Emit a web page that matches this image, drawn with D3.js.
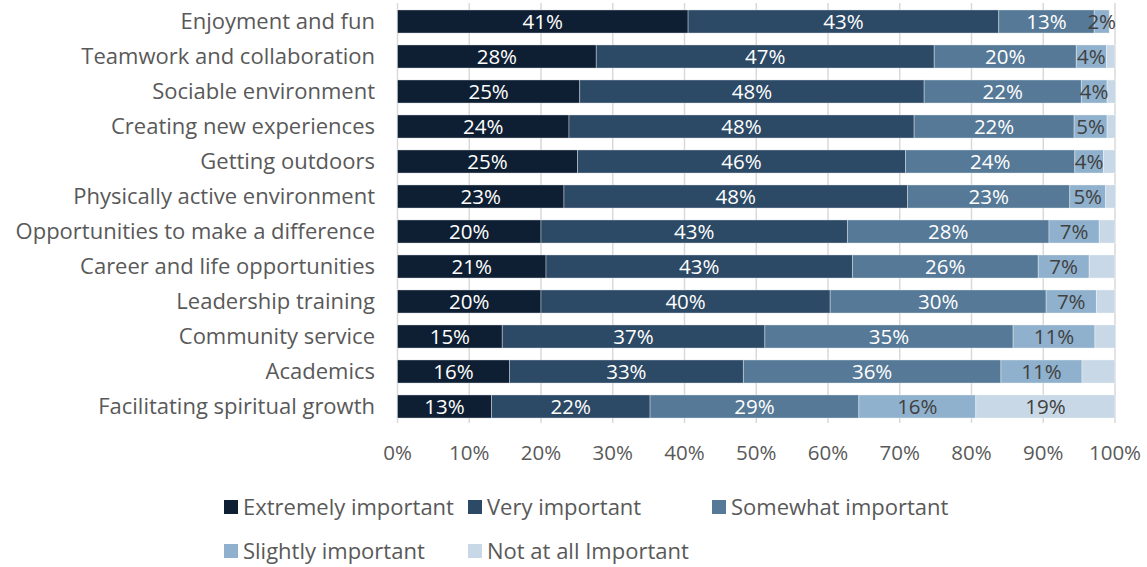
<!DOCTYPE html>
<html>
<head>
<meta charset="utf-8">
<script src="https://cdn.jsdelivr.net/npm/d3@7"></script>
<style>
  body { margin: 0; background: #fff; }
  svg { display: block; font-family: "Open Sans", Lato, sans-serif; }
</style>
</head>
<body>
<svg id="chart" width="1147" height="567"></svg>
<script>
// reasons, top to bottom
var categories = [
  "Enjoyment and fun",
  "Teamwork and collaboration",
  "Sociable environment",
  "Creating new experiences",
  "Getting outdoors",
  "Physically active environment",
  "Opportunities to make a difference",
  "Career and life opportunities",
  "Leadership training",
  "Community service",
  "Academics",
  "Facilitating spiritual growth"
];

var seriesNames = ["Extremely important", "Very important", "Somewhat important",
                   "Slightly important", "Not at all Important"];

// percent values per series, same order as categories
var extremely = [40.5, 27.7, 25.4, 23.9, 25.1, 23.2, 20.0, 20.7, 20.0, 14.6, 15.6, 13.1];
var very      = [43.3, 47.1, 48.0, 48.1, 45.7, 47.9, 42.7, 42.7, 40.3, 36.6, 32.6, 22.1];
var somewhat  = [13.3, 19.8, 21.9, 22.3, 23.6, 22.6, 28.1, 25.9, 30.1, 34.6, 35.9, 29.1];
var slightly  = [2.1, 4.2, 3.6, 4.6, 4.0, 5.0, 7.0, 7.1, 7.0, 11.4, 11.3, 16.3];
var notAtAll  = [0.0, 1.2, 1.2, 1.2, 1.7, 1.4, 2.2, 3.6, 2.6, 2.9, 4.6, 19.4];

var xTicks = [0, 10, 20, 30, 40, 50, 60, 70, 80, 90, 100];

var colors = ["#0f1f33", "#2c4966", "#557997", "#8fb1cd", "#c8d8e7"];
var labelColors = ["#fff", "#fff", "#fff", "#404040", "#404040"];

var svg = d3.select("#chart");

var x = d3.scaleLinear().domain([0, 100]).range([397.5, 1115]);
var y = d3.scaleBand().domain(categories).range([4, 424])
  .paddingInner(0.34).paddingOuter(0.17);

// grid
svg.append("g").selectAll("line")
  .data(xTicks)
  .join("line")
  .attr("x1", d => x(d)).attr("x2", d => x(d))
  .attr("y1", 3).attr("y2", 423)
  .attr("stroke", "#d9d9d9").attr("stroke-width", 1.5);

// stack the series
var table = categories.map((c, i) => ({
  cat: c,
  s0: extremely[i], s1: very[i], s2: somewhat[i], s3: slightly[i], s4: notAtAll[i]
}));
var keys = ["s0", "s1", "s2", "s3", "s4"];
var stacked = d3.stack().keys(keys)(table);

var layers = svg.append("g").selectAll("g")
  .data(stacked)
  .join("g")
  .attr("fill", (d, i) => colors[i]);

layers.selectAll("rect")
  .data(d => d)
  .join("rect")
  .attr("x", d => x(d[0]))
  .attr("y", d => y(d.data.cat))
  .attr("width", d => x(d[1]) - x(d[0]))
  .attr("height", y.bandwidth())
  .attr("stroke", "#fff").attr("stroke-opacity", 0.45).attr("stroke-width", 0.8);

// value labels
stacked.forEach((layer, i) => {
  svg.append("g").selectAll("text")
    .data(layer.filter(d => d[1] - d[0] > 0 && (i < 4 || d[1] - d[0] >= 10)))
    .join("text")
    .attr("x", d => x((d[0] + d[1]) / 2))
    .attr("y", d => y(d.data.cat) + y.bandwidth() / 2)
    .attr("dy", "0.36em")
    .attr("text-anchor", "middle")
    .attr("font-size", 20.5)
    .attr("fill", labelColors[i])
    .text(d => Math.round(d[1] - d[0]) + "%");
});

// category labels
svg.append("g").selectAll("text")
  .data(categories)
  .join("text")
  .attr("x", 375)
  .attr("y", d => y(d) + y.bandwidth() / 2)
  .attr("dy", "0.36em")
  .attr("text-anchor", "end")
  .attr("font-size", 22)
  .attr("fill", "#595959")
  .text(d => d);

// x axis labels
svg.append("g").selectAll("text")
  .data(xTicks)
  .join("text")
  .attr("x", d => x(d))
  .attr("y", 453)
  .attr("dy", "0.36em")
  .attr("text-anchor", "middle")
  .attr("font-size", 20.5)
  .attr("fill", "#595959")
  .text(d => d + "%");

// legend, three per row
var legend = svg.append("g").selectAll("g")
  .data(seriesNames)
  .join("g")
  .attr("transform", (d, i) => "translate(" + (224 + (i % 3) * 244) + "," + (507 + Math.floor(i / 3) * 44) + ")");

legend.append("rect")
  .attr("x", 0).attr("y", -7)
  .attr("width", 14).attr("height", 14)
  .attr("fill", (d, i) => colors[i]);

legend.append("text")
  .attr("x", 19)
  .attr("dy", "0.36em")
  .attr("font-size", 22)
  .attr("fill", "#595959")
  .text(d => d);
</script>
</body>
</html>
